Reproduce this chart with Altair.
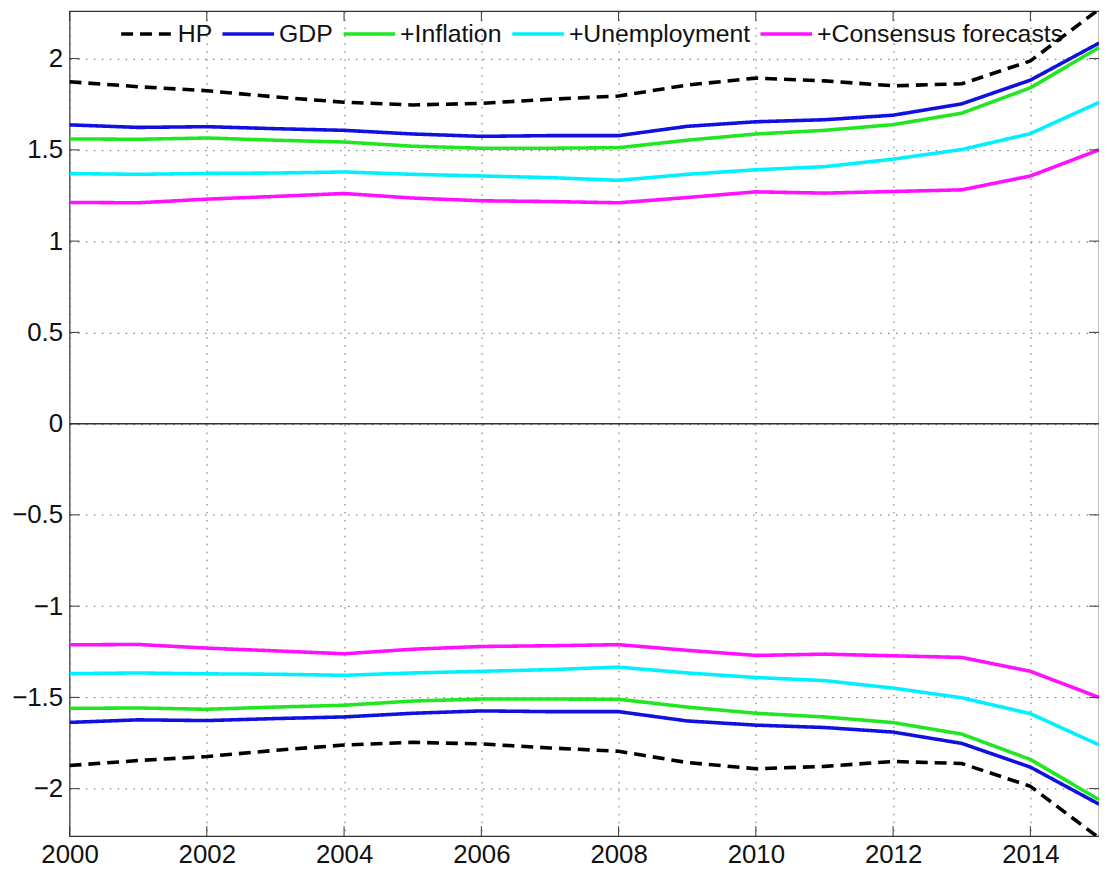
import altair as alt
import pandas as pd

years = list(range(2000, 2016))
series_names = ["HP", "GDP", "+Inflation", "+Unemployment", "+Consensus forecasts"]
series_colors = ["#000000", "#1010e0", "#22e622", "#00f0ff", "#ff10ff"]

hp_upper = [1.873, 1.846, 1.824, 1.790, 1.761, 1.746, 1.755, 1.777, 1.795, 1.855, 1.893, 1.878, 1.851, 1.862, 1.987, 2.270]
gdp_upper = [1.637, 1.623, 1.627, 1.616, 1.607, 1.587, 1.574, 1.578, 1.578, 1.629, 1.654, 1.665, 1.690, 1.752, 1.882, 2.085]
infl_upper = [1.560, 1.558, 1.565, 1.553, 1.543, 1.520, 1.509, 1.509, 1.512, 1.553, 1.587, 1.607, 1.638, 1.701, 1.840, 2.060]
unemp_upper = [1.370, 1.366, 1.371, 1.373, 1.379, 1.366, 1.357, 1.348, 1.333, 1.366, 1.391, 1.408, 1.449, 1.502, 1.589, 1.760]
cons_upper = [1.212, 1.210, 1.230, 1.245, 1.261, 1.236, 1.221, 1.217, 1.210, 1.239, 1.270, 1.263, 1.272, 1.281, 1.357, 1.500]

hp_lower = [-1.873, -1.846, -1.824, -1.790, -1.761, -1.746, -1.755, -1.777, -1.795, -1.857, -1.891, -1.878, -1.851, -1.862, -1.987, -2.270]
gdp_lower = [-1.637, -1.623, -1.627, -1.616, -1.607, -1.587, -1.574, -1.578, -1.578, -1.629, -1.652, -1.665, -1.690, -1.752, -1.882, -2.085]
infl_lower = [-1.560, -1.558, -1.565, -1.553, -1.543, -1.520, -1.509, -1.509, -1.510, -1.553, -1.587, -1.607, -1.638, -1.701, -1.840, -2.060]
unemp_lower = [-1.370, -1.366, -1.371, -1.373, -1.379, -1.366, -1.357, -1.348, -1.334, -1.366, -1.391, -1.408, -1.449, -1.502, -1.589, -1.760]
cons_lower = [-1.212, -1.210, -1.230, -1.245, -1.261, -1.236, -1.221, -1.217, -1.211, -1.242, -1.270, -1.263, -1.272, -1.281, -1.357, -1.500]

y_ticks = [-2, -1.5, -1, -0.5, 0, 0.5, 1, 1.5, 2]
x_ticks = [2000, 2002, 2004, 2006, 2008, 2010, 2012, 2014]

W, H = 1037, 831
FONT = "Liberation Sans"

upper = [hp_upper, gdp_upper, infl_upper, unemp_upper, cons_upper]
lower = [hp_lower, gdp_lower, infl_lower, unemp_lower, cons_lower]
rows = []
for name, up, lo in zip(series_names, upper, lower):
    for yr, u, l in zip(years, up, lo):
        rows.append({"year": yr, "series": name, "band": "upper", "value": u})
        rows.append({"year": yr, "series": name, "band": "lower", "value": l})
df = pd.DataFrame(rows)

x_scale = alt.Scale(domain=[2000, 2015], nice=False, zero=False)
y_scale = alt.Scale(domain=[-2.26, 2.26], nice=False, zero=False)

x_axis = alt.Axis(values=x_ticks, format="d", title=None, tickSize=0,
                  labelPadding=6, domain=False, grid=True, labelFlush=False)
y_axis = alt.Axis(values=y_ticks, format=".1~f", title=None, tickSize=0,
                  labelPadding=7, domain=False, grid=True, labelFlush=False)

lines = alt.Chart(df).mark_line(strokeWidth=3.6, clip=True).encode(
    x=alt.X("year:Q", scale=x_scale, axis=x_axis),
    y=alt.Y("value:Q", scale=y_scale, axis=y_axis),
    color=alt.Color("series:N", sort=series_names,
                    scale=alt.Scale(domain=series_names, range=series_colors),
                    legend=alt.Legend(title=None)),
    strokeDash=alt.StrokeDash("series:N", sort=series_names,
                              scale=alt.Scale(domain=series_names,
                                              range=[[12, 7], [1, 0], [1, 0], [1, 0], [1, 0]]),
                              legend=alt.Legend(title=None)),
    detail="band:N",
    order=alt.Order("year:Q"),
)

zero_df = pd.DataFrame({"value": [0]})
zero_line = alt.Chart(zero_df).mark_rule(color="#333333", strokeWidth=1.5).encode(
    y=alt.Y("value:Q", scale=y_scale, axis=y_axis)
)

ytick_df = pd.DataFrame({"value": y_ticks})
xtick_df = pd.DataFrame({"year": x_ticks})
tick_col = "#333333"
left_ticks = alt.Chart(ytick_df).mark_rule(color=tick_col, strokeWidth=1).encode(
    y=alt.Y("value:Q", scale=y_scale, axis=y_axis), x=alt.value(0), x2=alt.value(10))
right_ticks = alt.Chart(ytick_df).mark_rule(color=tick_col, strokeWidth=1).encode(
    y=alt.Y("value:Q", scale=y_scale, axis=y_axis), x=alt.value(W - 10), x2=alt.value(W))
bottom_ticks = alt.Chart(xtick_df).mark_rule(color=tick_col, strokeWidth=1).encode(
    x=alt.X("year:Q", scale=x_scale, axis=x_axis), y=alt.value(H - 10), y2=alt.value(H))
top_ticks = alt.Chart(xtick_df).mark_rule(color=tick_col, strokeWidth=1).encode(
    x=alt.X("year:Q", scale=x_scale, axis=x_axis), y=alt.value(0), y2=alt.value(10))

chart = alt.layer(lines, zero_line, left_ticks, right_ticks, bottom_ticks, top_ticks).properties(
    width=W, height=H,
    autosize=alt.AutoSizeParams(type="none"),
    padding={"left": 62, "top": 0, "right": 0, "bottom": 36},
).configure_view(
    stroke="#333333", strokeWidth=1.2
).configure_axis(
    labelFont=FONT, labelFontSize=26, labelColor="#111111",
    gridColor="#555555", gridDash=[1.5, 6.5], gridWidth=1, gridOpacity=0.9,
).configure_legend(
    orient="none", legendX=50, legendY=-5, direction="horizontal",
    symbolType="stroke", symbolSize=2704, symbolStrokeWidth=3.6,
    labelFont=FONT, labelFontSize=25, labelColor="#111111", labelOffset=3,
    columnPadding=2, padding=0, rowPadding=0, labelLimit=400,
)

chart.save("out.html", embed_options={"renderer": "svg", "actions": False})
